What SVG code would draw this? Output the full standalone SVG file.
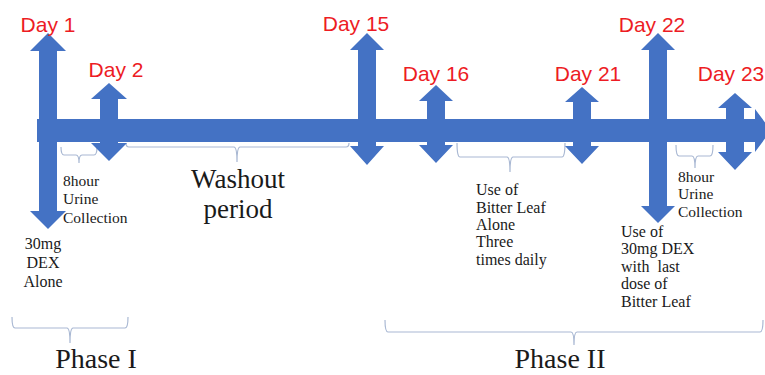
<svg xmlns="http://www.w3.org/2000/svg" width="765" height="375" viewBox="0 0 765 375">
<style>
.arr{fill:#4472C4}
.day{font-family:"Liberation Sans",Arial,sans-serif;font-size:21px;fill:#ED1C24;text-anchor:middle}
.br{fill:none;stroke:#A9B8D3;stroke-width:1.2}
.t{font-family:"Liberation Serif","Times New Roman",serif;fill:#1a1a1a}
.s{font-size:15.5px}
.m{font-size:16px}
.big{font-size:27px;text-anchor:middle}
.ph{font-size:28px;text-anchor:middle}
</style>
<rect width="765" height="375" fill="#ffffff"/>
<g id="connectors">
<polygon class="arr" points="37,119 755,119 755,109 771,130.5 755,152 755,142 37,142"/>
<path class="br" d="M61,147 Q61,155 64,155 H76 Q79,155 79,163 Q79,155 82,155 H94 Q97,155 97,147"/>
<path class="br" d="M126,143 Q126,147 129,147 H234 Q237,147 237,162 Q237,147 240,147 H346 Q349,147 349,143"/>
<path class="br" d="M457,143 Q457,157 460,157 H507 Q510,157 510,172 Q510,157 513,157 H562 Q565,157 565,143"/>
<path class="br" d="M676,145 Q676,156 679,156 H692 Q695,156 695,168 Q695,156 698,156 H710 Q713,156 713,145"/>
<path class="br" d="M12,317 Q12,328 15,328 H67 Q70,328 70,343 Q70,328 73,328 H125 Q128,328 128,317"/>
<path class="br" d="M385,320 Q385,332 388,332 H571 Q574,332 574,345 Q574,332 577,332 H760 Q763,332 763,320"/>
</g>
<g id="day1">
<polygon class="arr" points="48,33 66,51 57,51 57,211 66,211 48,229 30,211 39,211 39,51 30,51"/>
<text class="day" x="48" y="32">Day 1</text>
</g>
<g id="day2">
<polygon class="arr" points="109,83 127,99 118,99 118,143 127,143 109,161 91,143 100,143 100,99 91,99"/>
<text class="day" x="116" y="77">Day 2</text>
</g>
<g id="day15">
<polygon class="arr" points="367,33 384,50 376,50 376,146 384,146 367,165 350,146 358,146 358,50 350,50"/>
<text class="day" x="356" y="31">Day 15</text>
</g>
<g id="day16">
<polygon class="arr" points="436,85 453,101 445,101 445,145 453,145 436,163 419,145 427,145 427,101 419,101"/>
<text class="day" x="436" y="81">Day 16</text>
</g>
<g id="day21">
<polygon class="arr" points="582,87 599,102 591,102 591,146 599,146 582,164 565,146 573,146 573,102 565,102"/>
<text class="day" x="588" y="81">Day 21</text>
</g>
<g id="day22">
<polygon class="arr" points="658,33 675,50 667,50 667,206 675,206 658,223 641,206 649,206 649,50 641,50"/>
<text class="day" x="652" y="32">Day 22</text>
</g>
<g id="day23">
<polygon class="arr" points="735,93 752,108 744,108 744,152 752,152 735,170 718,152 726,152 726,108 718,108"/>
<text class="day" x="731" y="81">Day 23</text>
</g>
<g id="labels">
<text class="t s" x="63" y="186">8hour</text>
<text class="t s" x="63" y="204">Urine</text>
<text class="t s" x="63" y="223">Collection</text>
<text class="t m" x="43" y="249" text-anchor="middle">30mg</text>
<text class="t m" x="43" y="268" text-anchor="middle">DEX</text>
<text class="t m" x="43" y="287" text-anchor="middle">Alone</text>
<text class="t big" x="238" y="188">Washout</text>
<text class="t big" x="238" y="218">period</text>
<text class="t m" x="476" y="195">Use of</text>
<text class="t m" x="476" y="213">Bitter Leaf</text>
<text class="t m" x="476" y="230">Alone</text>
<text class="t m" x="476" y="247">Three</text>
<text class="t m" x="476" y="265">times daily</text>
<text class="t s" x="678" y="182">8hour</text>
<text class="t s" x="678" y="199">Urine</text>
<text class="t s" x="678" y="217">Collection</text>
<text class="t m" x="621" y="237">Use of</text>
<text class="t m" x="621" y="254">30mg DEX</text>
<text class="t m" x="621" y="272" style="white-space:pre" xml:space="preserve">with  last</text>
<text class="t m" x="621" y="289">dose of</text>
<text class="t m" x="621" y="307">Bitter Leaf</text>
<text class="t ph" x="96" y="368">Phase I</text>
<text class="t ph" x="560" y="368">Phase II</text>
</g>
</svg>
